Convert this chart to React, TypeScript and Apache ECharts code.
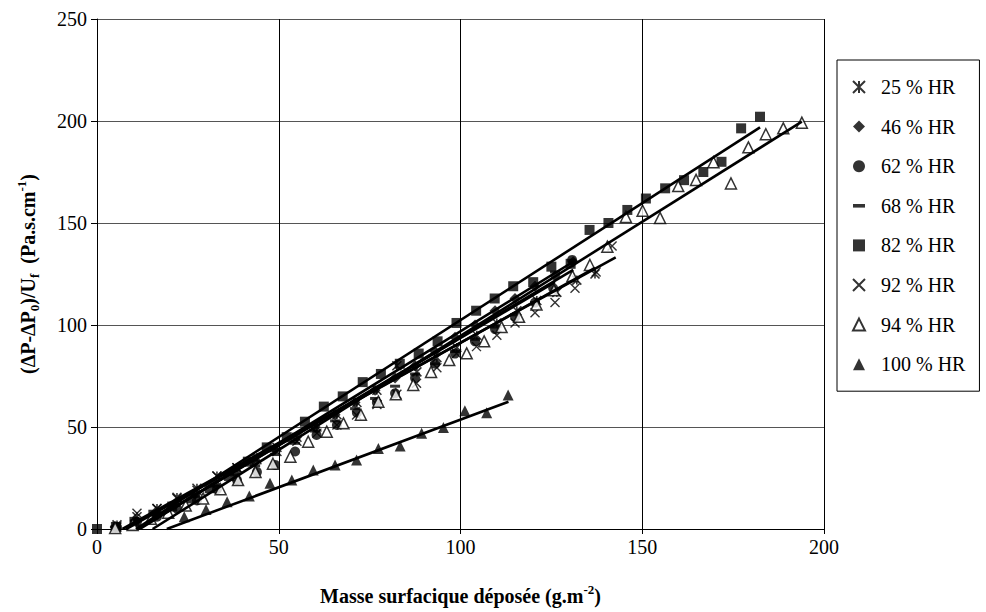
import React, { useEffect, useRef } from "react";
import * as echarts from "echarts";

const FONT = "'Liberation Serif', 'Times New Roman', serif";

// X axis / Y axis ticks
const xTicks = [0, 50, 100, 150, 200];
const yTicks = [0, 50, 100, 150, 200, 250];

const seriesNames = ["25 % HR", "46 % HR", "62 % HR", "68 % HR", "82 % HR", "92 % HR", "94 % HR", "100 % HR"];

// 25 % HR
const x25 = [5.5, 11, 16.5, 22, 27.5, 33, 38.5, 44, 49.5, 55, 60.5, 66, 71.5, 77, 82.5, 88, 93.5, 99, 104.5, 110, 115.5, 121, 126.5, 132, 137];
const y25 = [2, 6, 10, 15.5, 20, 26, 30, 35, 40, 45, 50, 56, 62, 68, 80, 77, 84, 89, 95, 101, 107, 112, 116, 122, 125];
// 46 % HR
const x46 = [5, 10.5, 16, 21.5, 27, 32.5, 38, 43.5, 49, 54.5, 60, 65.5, 71, 76.5, 82, 87.5, 93, 98.5, 104, 109.5, 115, 120.5, 126, 131];
const y46 = [1, 4, 8, 12, 17, 22, 28, 33, 39, 44, 50, 56, 62, 68, 74, 80, 87, 94, 100, 107, 113, 119, 124, 131];
// 62 % HR
const x62 = [5.5, 11, 16.5, 22, 27.5, 33, 38.5, 44, 49, 54.5, 60.4, 66, 71.5, 77, 82, 87.5, 93, 98.5, 104, 109.5, 115, 120.5, 125.5, 130.7];
const y62 = [1, 3.5, 6, 10, 14, 19.5, 24, 28, 31.4, 38, 46.1, 51, 57, 62, 66.5, 74, 81, 86, 92, 98, 104, 111, 118, 131.9];
// 68 % HR
const x68 = [5, 10.5, 16, 21.5, 27, 32.5, 38, 43.5, 49, 54.5, 60, 65.5, 71, 76.5, 82, 87.5, 93, 98.5, 104, 109.5, 115, 120.5, 126];
const y68 = [1, 4, 7.5, 11.5, 16, 21, 26.5, 31, 36.5, 42, 48, 53, 59, 64, 70, 76, 81, 87, 93, 99, 105, 111, 126];
// 82 % HR
const x82 = [0, 5.2, 10.3, 15.5, 20.7, 25.9, 31, 36.3, 41.5, 46.7, 52.2, 57.2, 62.4, 67.6, 73.1, 78.1, 83.3, 88.5, 93.7, 98.9, 104.3, 109.4, 114.5, 120, 125, 130.3, 135.5, 140.7, 145.9, 151, 156.3, 161.5, 166.8, 171.8, 177.2, 182.4];
const y82 = [0, 1, 3.5, 7, 11, 15, 20, 26, 33, 40, 45, 52.6, 60, 65, 72, 76, 81, 86, 92, 101, 107, 113, 119, 121, 128.6, 130, 146.6, 150, 156.4, 162, 167, 171, 175, 180, 196.4, 202.1];
// 92 % HR
const x92 = [5.5, 11, 16.5, 22, 27.5, 33, 38.5, 44, 49.5, 55, 60.5, 66, 71.4, 77, 82.5, 87.9, 93.5, 98.9, 104.4, 110, 115, 120.5, 126, 131.5, 137.3, 141.7];
const y92 = [1, 7.7, 10, 15, 19, 26, 30, 34, 38, 43, 47, 51, 55.9, 61, 66, 71.4, 79, 86, 89.4, 95, 101, 106, 111, 118, 126, 138.7];
// 94 % HR
const x94 = [5, 9.8, 14.8, 19.6, 24.4, 29.2, 34, 38.8, 43.6, 48.4, 53.2, 58.1, 63.2, 67.8, 72.6, 77.4, 82.2, 87, 91.9, 96.9, 101.7, 106.5, 111.3, 116.1, 120.9, 125.7, 130.8, 135.6, 140.4, 145.5, 150.1, 154.9, 159.9, 164.8, 169.6, 174.4, 179.2, 184, 188.8, 193.9];
const y94 = [0.5, 2, 5, 8, 11.5, 15, 19.5, 24, 28, 32, 35.4, 42.8, 47.7, 51.8, 56, 62.4, 66, 70.6, 77, 82.8, 86.1, 92, 99, 104, 110, 117, 124, 129.4, 138.4, 153, 156, 152.5, 168.1, 171.1, 179.8, 169.4, 187.1, 193.5, 196.4, 199.2];
// 100 % HR
const x100 = [24, 30, 35.8, 41.9, 47.6, 53.6, 59.5, 65.5, 71.4, 77.4, 83.4, 89.3, 95.3, 101.2, 107.2, 113.1];
const y100 = [6, 9.5, 13.4, 16.2, 22.4, 24, 28.9, 31.4, 33.8, 39.5, 40.7, 46.9, 49.8, 58, 57, 65.7];

// Linear trend lines (start / end)
const trendX = [[8, 137], [11.8, 131], [11.3, 131], [11, 126], [10.7, 182.4], [7, 142.7], [15.3, 193.9], [19.2, 113.2]];
const trendY = [[0, 128], [0, 131], [0, 127], [0, 121], [0, 196.9], [0, 133.2], [0, 199.7], [0, 62.4]];

const xs = [x25, x46, x62, x68, x82, x92, x94, x100];
const ys = [y25, y46, y62, y68, y82, y92, y94, y100];

const CROSS = "path://M0,0L10,10M10,0L0,10";
const ASTER = "path://M0,0L10,10M10,0L0,10M5,0L5,10";
const DASH = "path://M0,0L10,0L10,3L0,3Z";

const symbols: any[] = [
  { symbol: ASTER, size: 9, icon: ASTER, style: { color: "rgba(0,0,0,0)", borderColor: "#000", borderWidth: 1.6 } },
  { symbol: "diamond", size: 11, icon: "diamond", style: { color: "#000" } },
  { symbol: "circle", size: 10, icon: "circle", style: { color: "#000" } },
  { symbol: "rect", size: [10, 3], icon: DASH, style: { color: "#000" } },
  { symbol: "rect", size: 10, icon: "rect", style: { color: "#000" } },
  { symbol: CROSS, size: 9, icon: CROSS, style: { color: "rgba(0,0,0,0)", borderColor: "#000", borderWidth: 1.4 } },
  { symbol: "triangle", size: 11, icon: "triangle", style: { color: "#fff", borderColor: "#000", borderWidth: 1.5 } },
  { symbol: "triangle", size: 11, icon: "triangle", style: { color: "#000" } },
];

function zip(a: number[], b: number[]) {
  return a.map((v, i) => [v, b[i]]);
}

export default function App() {
  const ref = useRef<HTMLDivElement>(null);
  useEffect(() => {
    if (!ref.current) return;
    const chart = echarts.init(ref.current, null, { renderer: "svg" });
    const scatter = seriesNames.map((name, i) => ({
      type: "scatter",
      name,
      data: zip(xs[i], ys[i]),
      symbol: symbols[i].symbol,
      symbolSize: symbols[i].size,
      itemStyle: symbols[i].style,
      z: 3,
    }));
    const trends = seriesNames.map((name, i) => ({
      type: "line",
      name: "trend " + name,
      data: zip(trendX[i], trendY[i]),
      symbol: "none",
      lineStyle: { color: "#000", width: 2.6 },
      z: 4,
      silent: true,
    }));
    const sub = { fontFamily: FONT, fontSize: 13, fontWeight: "bold", color: "#000", verticalAlign: "bottom", lineHeight: 13 };
    const sup = { fontFamily: FONT, fontSize: 13, fontWeight: "bold", color: "#000", verticalAlign: "top", lineHeight: 13 };
    const b = { fontFamily: FONT, fontSize: 20, fontWeight: "bold", color: "#000", lineHeight: 26 };
    chart.setOption({
      animation: false,
      backgroundColor: "#fff",
      textStyle: { fontFamily: FONT },
      grid: { left: 97, top: 19, right: 162, bottom: 83, containLabel: false },
      legend: {
        orient: "vertical",
        left: 837,
        top: 60,
        data: seriesNames.map((name, i) => ({ name, icon: symbols[i].icon })),
        itemWidth: 12,
        itemHeight: 12,
        itemGap: 19.6,
        padding: [17, 14, 17, 15],
        borderColor: "#000",
        borderWidth: 1,
        textStyle: { fontFamily: FONT, fontSize: 20, color: "#000", lineHeight: 20, padding: [0, 0, 0, 11] },
      },
      xAxis: {
        type: "value",
        min: xTicks[0],
        max: xTicks[xTicks.length - 1],
        interval: 50,
        name: "{b|Masse surfacique déposée (g.m}{sup|-2}{b|)}",
        nameLocation: "middle",
        nameGap: 54,
        nameTextStyle: { fontFamily: FONT, rich: { b, sup } },
        axisLine: { lineStyle: { color: "#000", width: 1 } },
        axisTick: { show: true, length: 5, lineStyle: { color: "#000" } },
        axisLabel: { fontFamily: FONT, fontSize: 20, color: "#000", margin: 8 },
        splitLine: { show: true, lineStyle: { color: "#000", width: 1 } },
      },
      yAxis: {
        type: "value",
        min: yTicks[0],
        max: yTicks[yTicks.length - 1],
        interval: 50,
        name: "{b|(ΔP-ΔP}{sub|0}{b|)/U}{sub|f}{b|  (Pa.s.cm}{sup|-1}{b|)}",
        nameLocation: "middle",
        nameRotate: 90,
        nameGap: 56,
        nameTextStyle: { fontFamily: FONT, rich: { b, sub, sup } },
        axisLine: { show: true, lineStyle: { color: "#000", width: 1 } },
        axisTick: { show: true, length: 6, lineStyle: { color: "#000" } },
        axisLabel: { fontFamily: FONT, fontSize: 20, color: "#000", margin: 10 },
        splitLine: { show: true, lineStyle: { color: "#555", width: 1 } },
      },
      series: [...scatter, ...trends],
    });
    return () => chart.dispose();
  }, []);
  return (
    <div
      ref={ref}
      style={{ position: "fixed", left: 0, top: 0, width: 986, height: 612, background: "#fff" }}
    />
  );
}
